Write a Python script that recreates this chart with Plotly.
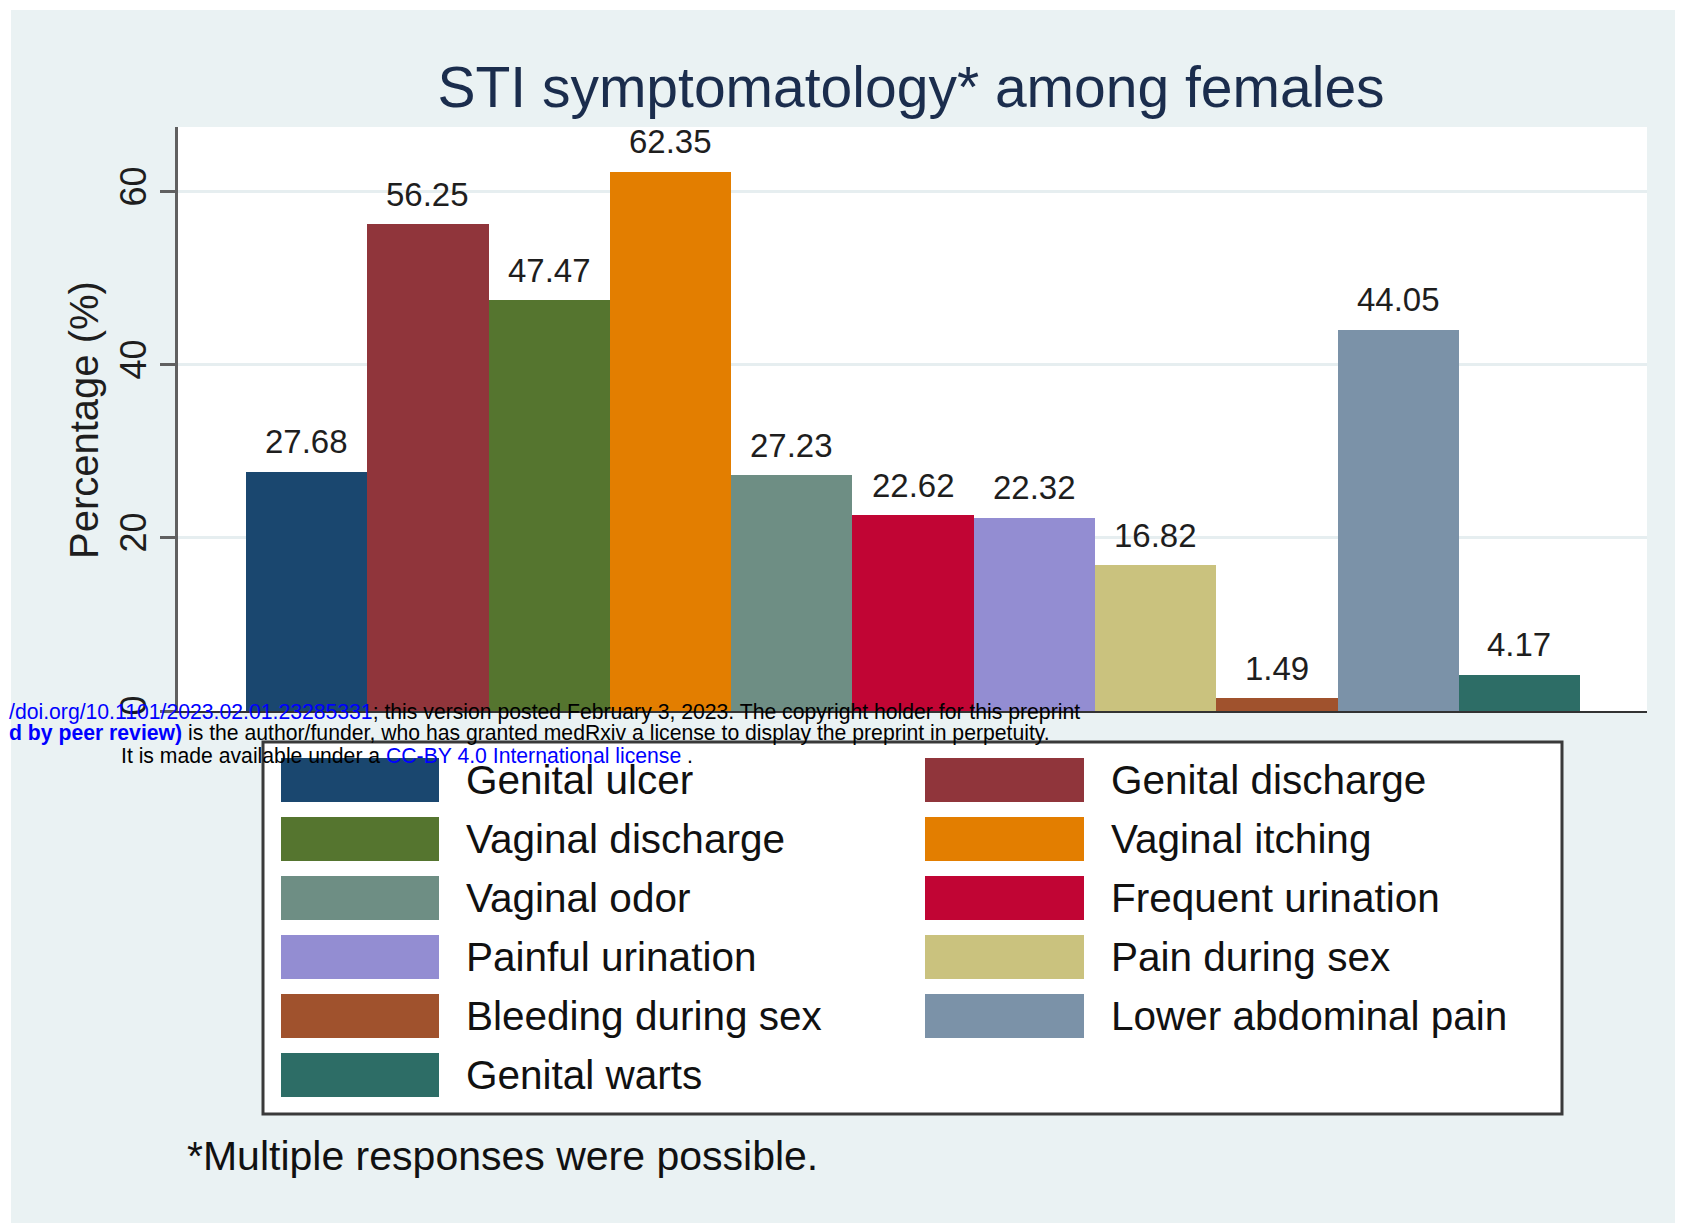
import plotly.graph_objects as go

# ---------------- data ----------------
categories = ["Genital ulcer", "Genital discharge", "Vaginal discharge", "Vaginal itching",
              "Vaginal odor", "Frequent urination", "Painful urination", "Pain during sex",
              "Bleeding during sex", "Lower abdominal pain", "Genital warts"]
values = [27.68, 56.25, 47.47, 62.35, 27.23, 22.62, 22.32, 16.82, 1.49, 44.05, 4.17]
colors = ["#1a476f", "#90353b", "#55752f", "#e37e00", "#6e8e84", "#c10534",
          "#938dd2", "#cac27e", "#a0522d", "#7b92a8", "#2d6d66"]
y_ticks = [0, 20, 40, 60]
title_text = "STI symptomatology* among females"
y_title = "Percentage (%)"
footnote = "*Multiple responses were possible."

# ---------------- geometry (page pixel coordinates) ----------------
PAGE_W, PAGE_H = 1683, 1223
OFF = 8                      # default page margin around the figure
W, H = PAGE_W - OFF, PAGE_H - OFF
L, R, T, B = 178, 1647, 127, 711
PW, PH = R - L, B - T
FONT = "Liberation Sans, Arial, Helvetica, sans-serif"
BG = "#eaf2f3"


def px(x):
    return (x - L) / PW


def py(y):
    return (B - y) / PH


fig = go.Figure()
xs = list(range(1, len(values) + 1))
fig.add_trace(go.Bar(
    x=xs, y=values, width=1.0,
    marker=dict(color=colors, line=dict(width=0)),
    showlegend=False, hoverinfo="x+y",
))

annotations = []
# value labels
for xi, v in zip(xs, values):
    annotations.append(dict(
        x=xi, y=v, xref="x", yref="y", text=f"{v:.2f}", showarrow=False,
        yanchor="middle", yshift=30, font=dict(size=33, color="#1e1e1e", family=FONT)))

# y axis title
annotations.append(dict(
    x=px(84), y=py(420), xref="paper", yref="paper", text=y_title, textangle=-90,
    showarrow=False, xanchor="center", yanchor="middle",
    font=dict(size=40, color="#1e1e1e", family=FONT)))

# footnote
annotations.append(dict(
    x=px(185), y=py(1156), xref="paper", yref="paper", text=footnote,
    showarrow=False, xanchor="left", yanchor="middle",
    font=dict(size=41, color="#111111", family=FONT)))

shapes = []
# white strips at top/left of the page
shapes.append(dict(type="rect", xref="paper", yref="paper", x0=px(0), x1=px(PAGE_W),
                   y0=py(10), y1=py(0), fillcolor="white", line=dict(width=0), layer="below"))
shapes.append(dict(type="rect", xref="paper", yref="paper", x0=px(0), x1=px(11),
                   y0=py(PAGE_H), y1=py(0), fillcolor="white", line=dict(width=0), layer="below"))

# legend box
shapes.append(dict(type="rect", xref="paper", yref="paper", x0=px(263), x1=px(1562),
                   y0=py(1114), y1=py(742), fillcolor="white",
                   line=dict(color="#3a3a3a", width=3), layer="below"))
sw_x = [(281, 439), (925, 1084)]
tx_x = [464, 1109]
for i, (cat, col) in enumerate(zip(categories, colors)):
    r, c = divmod(i, 2)
    top = 758 + r * 59
    shapes.append(dict(type="rect", xref="paper", yref="paper",
                       x0=px(sw_x[c][0]), x1=px(sw_x[c][1]), y0=py(top + 44), y1=py(top),
                       fillcolor=col, line=dict(width=0), layer="above"))
    annotations.append(dict(
        x=px(tx_x[c]), y=py(top + 22), xref="paper", yref="paper", text=cat,
        showarrow=False, xanchor="left", yanchor="middle",
        font=dict(size=40.5, color="#111111", family=FONT)))

# preprint watermark lines
BLUE = "#0000ff"
wm = [
    (OFF, 712, f"<span style='color:{BLUE}'>/doi.org/10.1101/2023.02.01.23285331</span>; this version posted February 3, 2023. The copyright holder for this preprint"),
    (OFF, 733, f"<b><span style='color:{BLUE}'>d by peer review)</span></b> is the author/funder, who has granted medRxiv a license to display the preprint in perpetuity."),
    (120, 755, f"It is made available under a <span style='color:{BLUE}'>CC-BY 4.0 International license</span> ."),
]
for xp, yp, t in wm:
    annotations.append(dict(
        x=px(xp), y=py(yp), xref="paper", yref="paper", text=t, showarrow=False,
        xanchor="left", yanchor="middle", borderpad=0,
        font=dict(size=21.2, color="black", family=FONT)))

fig.update_layout(
    width=W, height=H,
    margin=dict(l=L - OFF, r=W - (R - OFF), t=T - OFF, b=H - (B - OFF), pad=0),
    paper_bgcolor=BG, plot_bgcolor="white",
    font=dict(family=FONT),
    title=dict(text=title_text, x=(911 - OFF) / W, xref="container", xanchor="center",
               y=1 - (87 - OFF) / H, yref="container", yanchor="middle",
               font=dict(size=57, color="#1b2d4d", family=FONT)),
    xaxis=dict(range=[-0.061, 12.052], showticklabels=False, ticks="", showgrid=False,
               zeroline=False, showline=True, linecolor="#333333", linewidth=2,
               fixedrange=True),
    yaxis=dict(range=[0, 67.5], tickvals=y_ticks, ticktext=[str(v) for v in y_ticks],
               tickangle=-90, tickfont=dict(size=36, color="#1e1e1e", family=FONT),
               ticks="outside", ticklen=15, tickwidth=3, tickcolor="#606060",
               showline=True, linecolor="#606060", linewidth=3,
               showgrid=True, gridcolor="#e6eef0", gridwidth=2.5, zeroline=False,
               automargin=False),
    annotations=annotations,
    shapes=shapes,
    bargap=0,
)

fig.write_html("out.html")
